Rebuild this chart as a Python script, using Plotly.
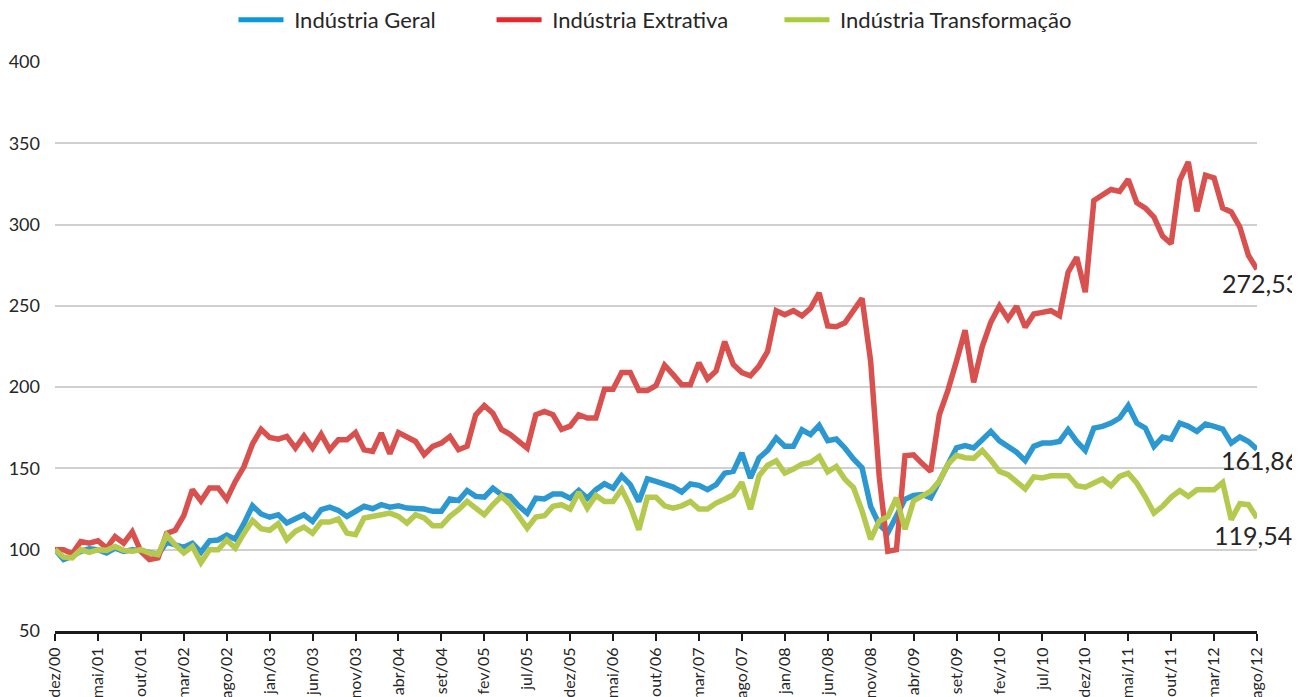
import plotly.graph_objects as go

# ---------------- data ----------------
month_names = ["jan", "fev", "mar", "abr", "mai", "jun", "jul", "ago", "set", "out", "nov", "dez"]
categories = ["dez/00"] + [f"{m}/{y:02d}" for y in range(1, 13) for m in month_names][:140]

tick_labels = ["dez/00", "mai/01", "out/01", "mar/02", "ago/02", "jan/03", "jun/03", "nov/03",
               "abr/04", "set/04", "fev/05", "jul/05", "dez/05", "mai/06", "out/06", "mar/07",
               "ago/07", "jan/08", "jun/08", "nov/08", "abr/09", "set/09", "fev/10", "jul/10",
               "dez/10", "mai/11", "out/11", "mar/12", "ago/12"]

industria_geral = [
    100, 94, 96, 99, 100.5, 100, 98, 101, 99, 100,
    99.5, 98, 97, 104.5, 103, 101.5, 104, 98.5, 105.5, 106,
    109, 106.5, 116, 127, 122, 120, 121.5, 116.4, 119, 121.5,
    117.4, 124.6, 126.2, 124.2, 120.5, 123.6, 126.7, 125.2, 127.7, 126.2,
    127, 125.6, 125.6, 125, 123.6, 123.6, 131.2, 130.3, 136.4, 132.8,
    132.4, 137.9, 133.8, 132.8, 127, 122.5, 131.7, 131.2, 134.2, 134.2,
    131.7, 136.4, 131.7, 136.9, 140.6, 137.9, 145.5, 140, 129.7, 143.6,
    142, 140, 138.5, 135.5, 140.4, 139.6, 136.9, 140, 147.1, 148.2,
    159.5, 144.1, 156.4, 161.1, 168.7, 163.6, 163.6, 173.8, 170.8, 176.5,
    167.1, 168.1, 162.6, 155.8, 150.3, 126.7, 115.5, 110.4, 121, 131,
    133.4, 134, 132, 142.2, 152.5, 162.6, 164, 162.6, 167.7, 172.8,
    167, 163, 160, 154.8, 163.6, 165.6, 165.6, 166.6, 173.8, 166.6,
    161.1, 174.8, 175.9, 177.9, 181, 188.6, 177.9, 174.8, 163.6, 169.3,
    168.1, 177.9, 175.9, 172.8, 177.3, 175.9, 174.2, 165.6, 169.3, 166.6,
    161.86,
]

industria_extrativa = [
    100, 100, 97.5, 105, 104, 105.5, 101, 108, 104, 111,
    99, 94, 95, 110, 112, 121, 137, 130, 138, 138,
    131, 142, 151, 165, 174, 169, 168, 169.7, 162.5, 170,
    162.5, 171, 161.5, 167.6, 167.6, 172, 161.5, 160.5, 171.7, 159,
    172, 169.7, 166.6, 158.5, 163.6, 165.6, 169.7, 161.5, 163.6, 183,
    188.6, 184, 174, 171, 167, 162.5, 183, 185, 183, 174,
    176, 183, 181, 181, 198.7, 198.7, 209, 209, 198, 198,
    201, 213.5, 207.7, 201.5, 201.5, 215, 205, 210, 228, 214,
    209, 207, 213, 222, 247, 244.5, 247, 243.8, 248.5, 258,
    237.6, 237.2, 239.6, 247, 254.6, 216, 145, 99, 100, 157.8,
    158.4, 153, 148.2, 183, 198, 216, 235, 203, 225, 240,
    250, 241.9, 249.7, 236.9, 245, 246, 247, 244, 270.7, 279.9,
    258.4, 314.8, 317.9, 321.6, 320.4, 327.8, 313.4, 310.1, 304.6, 292.9,
    288.2, 327.2, 338.5, 308.2, 330.3, 328.7, 310.2, 307.8, 298.5, 281.1,
    272.53,
]

industria_transformacao = [
    100, 95.5, 95, 100, 98.4, 100, 99.6, 102, 99.6, 99,
    100, 98, 97, 109, 103, 98, 102, 92, 100, 100,
    106, 101, 110, 118, 113, 112, 116, 106.1, 111.3, 113.9,
    110.2, 117, 117, 119, 110.2, 109.2, 119.5, 120.9, 121.5, 122.5,
    120.5, 116.4, 121.5, 119.5, 114.7, 114.7, 120.5, 124.6, 129.7, 125.6,
    121.5, 127.7, 132.8, 128, 120, 113.3, 120.1, 120.9, 126.7, 127.7,
    125, 135.3, 125.6, 133.4, 129.7, 129.7, 137.3, 126.7, 112.3, 132.2,
    132.2, 127, 125.6, 127, 129.7, 125, 125, 128.7, 131.1, 133.8,
    141.4, 124.9, 145.5, 152, 154.7, 147.1, 149.6, 152.7, 153.7, 157.4,
    147.9, 151.2, 143.4, 138.3, 123.9, 106.4, 117.7, 120.3, 132, 112.6,
    130, 133.4, 136.1, 142.2, 152.5, 158, 156.6, 156.2, 161.1, 155,
    148.2, 146.2, 142.1, 137.4, 144.8, 144.1, 145.5, 145.5, 145.5, 139.4,
    138.5, 141, 143.5, 139.4, 145.1, 147.1, 141, 132.4, 122.6, 126.7,
    132.4, 136.3, 132.8, 136.9, 137.3, 136.9, 141.4, 118.5, 128.3, 127.7,
    119.54,
]

series_names = ["Indústria Geral", "Indústria Extrativa", "Indústria Transformação"]
end_labels = ["161,86", "272,53", "119,54"]

# ---------------- styles ----------------
line_colors = ["#2b98d2", "#d9514e", "#b6c94f"]
legend_colors = ["#0c98da", "#e8262b", "#a8cc3a"]
legend_ids = ["legend", "legend2", "legend3"]
legend_x = [0.1485, 0.3632, 0.6027]
FONT = "Lato, 'Open Sans', sans-serif"

fig = go.Figure()

series_values = [industria_geral, industria_extrativa, industria_transformacao]

for name, vals, col in zip(series_names, series_values, line_colors):
    fig.add_trace(go.Scatter(
        x=categories, y=vals, mode="lines", name=name,
        line=dict(color=col, width=5.5, shape="linear"),
        showlegend=False, hoverinfo="skip",
    ))

# legend-only entries with the saturated legend colours (one legend each)
for name, col, lid in zip(series_names, legend_colors, legend_ids):
    fig.add_trace(go.Scatter(
        x=[None], y=[None], mode="lines", name=" " + name,
        line=dict(color=col, width=5), showlegend=True, legend=lid,
    ))

# end-of-series value annotations
label_y = {"161,86": 155.4, "272,53": 264.2, "119,54": 109.2}
label_shift = {"161,86": 44, "272,53": 45, "119,54": 37}
for lbl in end_labels:
    fig.add_annotation(
        x=1.0, xref="paper", xshift=label_shift[lbl], xanchor="right",
        y=label_y[lbl], yref="y", yanchor="middle",
        text=lbl, showarrow=False,
        font=dict(family=FONT, size=25, color="#262626"),
    )

legend_style = dict(
    orientation="h", xanchor="left", y=1.074, yanchor="middle",
    font=dict(family=FONT, size=22, color="#262626"),
    itemwidth=45, bgcolor="rgba(0,0,0,0)",
)

# the page body adds an 8 px offset, so the figure is 8 px narrower/shorter
fig.update_layout(
    width=1292, height=689,
    margin=dict(l=47, r=43, t=54, b=66, autoexpand=False),
    paper_bgcolor="white", plot_bgcolor="white",
    font=dict(family=FONT, color="#262626"),
    legend=dict(x=legend_x[0], **legend_style),
    legend2=dict(x=legend_x[1], **legend_style),
    legend3=dict(x=legend_x[2], **legend_style),
    showlegend=True,
)

fig.update_xaxes(
    type="category",
    categoryorder="array", categoryarray=categories,
    range=[0, len(categories) - 1],
    tickmode="array", tickvals=tick_labels, ticktext=tick_labels,
    tickangle=-90,
    tickfont=dict(family=FONT, size=16, color="#262626"),
    showgrid=False, zeroline=False,
    showline=True, linecolor="#1a1a1a", linewidth=3,
    ticks="outside", ticklen=7, tickwidth=2, tickcolor="#1a1a1a",
)

fig.update_yaxes(
    range=[50, 400],
    tickmode="array", tickvals=[50, 100, 150, 200, 250, 300, 350, 400],
    tickfont=dict(family=FONT, size=18, color="#262626"),
    showgrid=True, gridcolor="#d0d0d0", gridwidth=1.5,
    zeroline=False, showline=False, ticks="",
    ticklabelstandoff=14,
)

fig.write_html("out.html")
